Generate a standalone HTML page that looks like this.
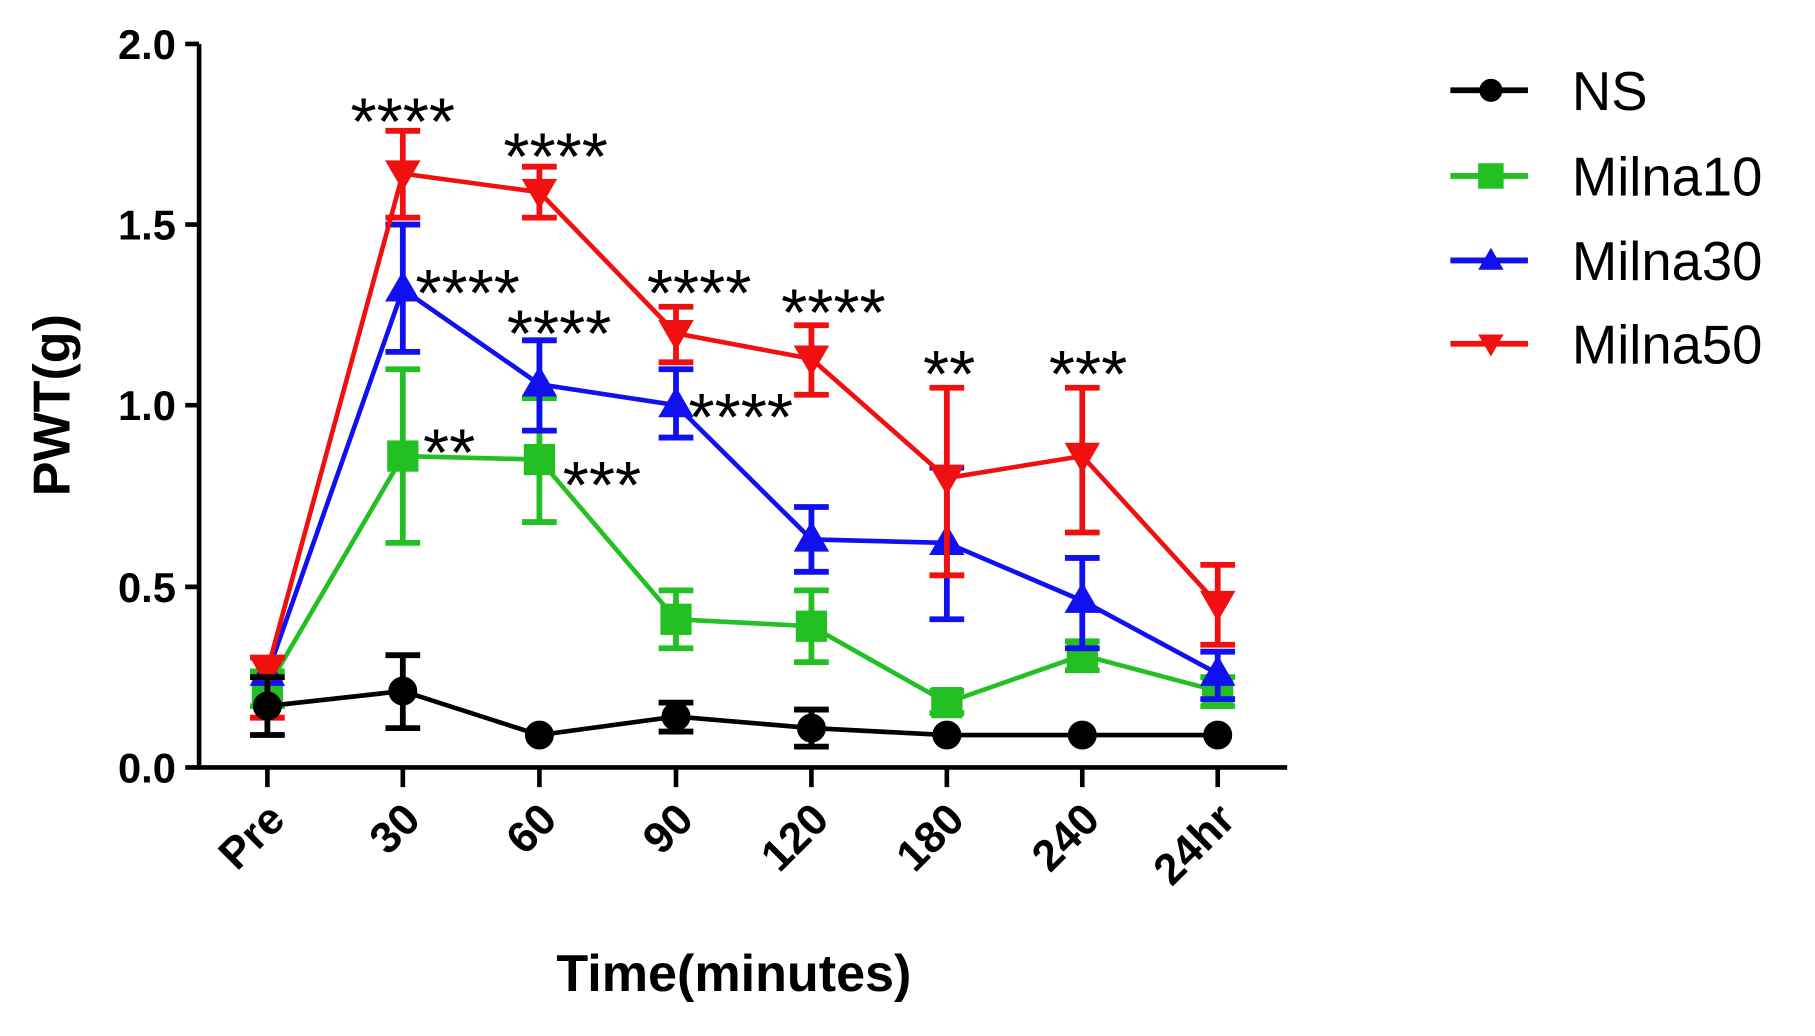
<!DOCTYPE html>
<html><head><meta charset="utf-8"><style>
html,body{margin:0;padding:0;background:#fff;}
svg{display:block;}
text{font-family:"Liberation Sans",Arial,sans-serif;font-weight:bold;}
text.n{font-weight:normal;}
</style></head><body>
<svg width="1815" height="1036" viewBox="0 0 1568 895" preserveAspectRatio="none" xmlns="http://www.w3.org/2000/svg">
<g stroke="#000" stroke-width="4" fill="none">
<path d="M172 38 V663 H1112"/>
<path d="M160 38H172 M160 194H172 M160 350H172 M160 507H172 M160 663H172"/>
<path d="M231 663V680 M348 663V680 M466 663V680 M584 663V680 M701 663V680 M818 663V680 M935 663V680 M1052 663V680"/>
</g>
<g font-size="36" text-anchor="end">
<text x="152" y="51">2.0</text><text x="152" y="207">1.5</text><text x="152" y="363">1.0</text><text x="152" y="520">0.5</text><text x="152" y="676">0.0</text>
</g>
<g font-size="38" text-anchor="end">
<text transform="translate(248,710) rotate(-45)">Pre</text>
<text transform="translate(365,710) rotate(-45)">30</text>
<text transform="translate(483,710) rotate(-45)">60</text>
<text transform="translate(601,710) rotate(-45)">90</text>
<text transform="translate(718,710) rotate(-45)">120</text>
<text transform="translate(835,710) rotate(-45)">180</text>
<text transform="translate(952,710) rotate(-45)">240</text>
<text transform="translate(1069,710) rotate(-45)">24hr</text>
</g>
<text x="634" y="856" font-size="45" text-anchor="middle">Time(minutes)</text>
<text transform="translate(60,350) rotate(-90)" font-size="45" text-anchor="middle">PWT(g)</text>

<g stroke="#22c022" fill="#22c022" stroke-width="5">
<polyline fill="none" stroke-width="4" points="231,594 348,394 466,397 584,535 701,541 818,607 935,566 1052,597"/>
<path d="M231 580V610 M348 319V469 M466 344V451 M584 510V560 M701 510V572 M818 597V616 M935 554V579 M1052 585V610"/>
<path d="M216 580H246 M216 610H246 M333 319H363 M333 469H363 M451 344H481 M451 451H481 M569 510H599 M569 560H599 M686 510H716 M686 572H716 M803 597H833 M803 616H833 M920 554H950 M920 579H950 M1037 585H1067 M1037 610H1067"/>
<rect x="220" y="583" width="22" height="22"/><rect x="337" y="383" width="22" height="22"/><rect x="455" y="386" width="22" height="22"/><rect x="573" y="524" width="22" height="22"/><rect x="690" y="530" width="22" height="22"/><rect x="807" y="596" width="22" height="22"/><rect x="924" y="555" width="22" height="22"/><rect x="1041" y="586" width="22" height="22"/>
</g>
<g stroke="#1010f0" fill="#1010f0" stroke-width="5">
<polyline fill="none" stroke-width="4" points="231,582 348,250 466,332 584,350 701,466 818,469 935,519 1052,582"/>
<path d="M348 194V304 M466 372V294 M584 378V319 M701 494V438 M818 535V404 M935 560V482 M1052 604V563"/>
<path d="M333 194H363 M333 304H363 M451 372H481 M451 294H481 M569 378H599 M569 319H599 M686 494H716 M686 438H716 M803 535H833 M803 404H833 M920 560H950 M920 482H950 M1037 604H1067 M1037 563H1067"/>
<path d="M231 571 l-11 19h22z M348 239 l-11 19h22z M466 321 l-11 19h22z M584 339 l-11 19h22z M701 455 l-11 19h22z M818 458 l-11 19h22z M935 508 l-11 19h22z M1052 571 l-11 19h22z"/>
</g>
<g stroke="#f01010" fill="#f01010" stroke-width="5">
<polyline fill="none" stroke-width="4" points="231,579 348,150 466,166 584,288 701,310 818,413 935,394 1052,522"/>
<path d="M231 568V620 M348 113V188 M466 144V188 M584 265V313 M701 281V341 M818 497V335 M935 460V335 M1052 557V488"/>
<path d="M216 568H246 M216 620H246 M333 113H363 M333 188H363 M451 144H481 M451 188H481 M569 265H599 M569 313H599 M686 281H716 M686 341H716 M803 497H833 M803 335H833 M920 460H950 M920 335H950 M1037 557H1067 M1037 488H1067"/>
<path d="M231 589 l-11 -19h22z M348 160 l-11 -19h22z M466 176 l-11 -19h22z M584 298 l-11 -19h22z M701 320 l-11 -19h22z M818 423 l-11 -19h22z M935 404 l-11 -19h22z M1052 532 l-11 -19h22z"/>
</g>
<g stroke="#000" fill="#000" stroke-width="5">
<polyline fill="none" stroke-width="4" points="231,610 348,597 466,635 584,619 701,629 818,635 935,635 1052,635"/>
<path d="M231 585V635 M348 566V629 M584 607V632 M701 613V645"/>
<path d="M216 585H246 M216 635H246 M333 566H363 M333 629H363 M569 607H599 M569 632H599 M686 613H716 M686 645H716"/>
<circle cx="231" cy="610" r="10"/><circle cx="348" cy="597" r="10"/><circle cx="466" cy="635" r="10"/><circle cx="584" cy="619" r="10"/><circle cx="701" cy="629" r="10"/><circle cx="818" cy="635" r="10"/><circle cx="935" cy="635" r="10"/><circle cx="1052" cy="635" r="10"/>
</g>
<g font-size="58" text-anchor="middle">
<text class="n" x="348" y="125">****</text>
<text class="n" x="480" y="155">****</text>
<text class="n" x="404" y="273">****</text>
<text class="n" x="483" y="308">****</text>
<text class="n" x="604" y="273">****</text>
<text class="n" x="720" y="290">****</text>
<text class="n" x="820" y="343">**</text>
<text class="n" x="940" y="343">***</text>
<text class="n" x="640" y="380">****</text>
<text class="n" x="388" y="411">**</text>
<text class="n" x="520" y="439">***</text>
</g>
<g stroke-width="5">
<line x1="1253" y1="78" x2="1320" y2="78" stroke="#000"/><circle cx="1288" cy="78" r="10" fill="#000"/>
<line x1="1253" y1="152" x2="1320" y2="152" stroke="#22c022"/><rect x="1277" y="141" width="22" height="22" fill="#22c022"/>
<line x1="1253" y1="225" x2="1320" y2="225" stroke="#1010f0"/><path d="M1288 214 l-11 19h22z" fill="#1010f0"/>
<line x1="1253" y1="297" x2="1320" y2="297" stroke="#f01010"/><path d="M1288 308 l-11 -19h22z" fill="#f01010"/>
</g>
<g font-size="47">
<text class="n" x="1358" y="95">NS</text>
<text class="n" x="1358" y="169">Milna10</text>
<text class="n" x="1358" y="242">Milna30</text>
<text class="n" x="1358" y="314">Milna50</text>
</g>
</svg>
</body></html>
